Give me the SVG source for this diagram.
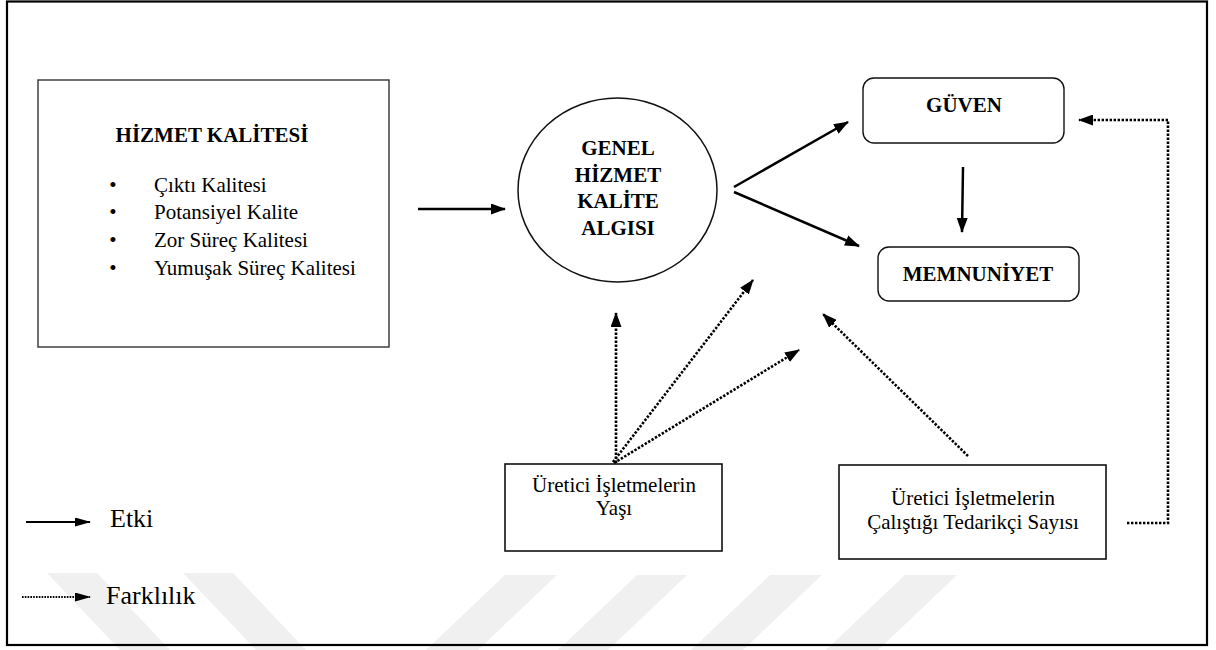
<svg xmlns="http://www.w3.org/2000/svg" width="1216" height="650" viewBox="0 0 1216 650">
  <style>
    text { font-family: "Liberation Serif", "Times New Roman", serif; fill: #000; }
    .title { font-size: 21px; font-weight: bold; text-anchor: middle; }
    .body { font-size: 21px; }
    .mid { text-anchor: middle; }
    .legend { font-size: 26px; }
    .box { fill: #fff; stroke: #111; stroke-width: 1.6; }
    .solid { fill: none; stroke: #000; stroke-width: 2.5; }
    .dotted { fill: none; stroke: #000; stroke-width: 2.6; stroke-dasharray: 2.4 1.6; }
    .mark { fill: #f0f0f0; }
  </style>
  <defs>
    <marker id="head" markerUnits="userSpaceOnUse" markerWidth="15" markerHeight="11" refX="14" refY="5.5" orient="auto">
      <path d="M0,0 L15,5.5 L0,11 z" fill="#000"/>
    </marker>
    <marker id="headSmall" markerUnits="userSpaceOnUse" markerWidth="16" markerHeight="9" refX="15" refY="4.5" orient="auto">
      <path d="M0,0 L16,4.5 L0,9 z" fill="#000"/>
    </marker>
  </defs>

  <rect width="1216" height="650" fill="#fff"/>

  <!-- faint background stripes -->
  <g id="stripes">
    <polygon class="mark" points="47,573 97,573 170,650 120,650"/>
    <polygon class="mark" points="183,573 233,573 306,650 256,650"/>
    <polygon class="mark" points="505,575 557,575 478,650 426,650"/>
    <polygon class="mark" points="637,575 687,575 608,650 558,650"/>
    <polygon class="mark" points="770,575 822,575 743,650 691,650"/>
    <polygon class="mark" points="905,575 957,575 878,650 826,650"/>
  </g>

  <!-- outer frame -->
  <rect x="7" y="1.5" width="1200" height="643.5" fill="none" stroke="#000" stroke-width="2.2"/>

  <g id="hizmet-kalitesi">
    <rect x="38" y="80" width="351" height="267" fill="#fff" stroke="#333" stroke-width="1.4"/>
    <text class="title" x="212" y="142">HİZMET KALİTESİ</text>
    <g class="body">
      <text class="mid" x="113" y="192">•</text>
      <text x="154" y="192">Çıktı Kalitesi</text>
      <text class="mid" x="113" y="219">•</text>
      <text x="154" y="219">Potansiyel Kalite</text>
      <text class="mid" x="113" y="247">•</text>
      <text x="154" y="247">Zor Süreç Kalitesi</text>
      <text class="mid" x="113" y="275">•</text>
      <text x="154" y="275">Yumuşak Süreç Kalitesi</text>
    </g>
  </g>

  <g id="genel-algi">
    <ellipse cx="617.5" cy="190" rx="99.5" ry="92" fill="#fff" stroke="#111" stroke-width="1.5"/>
    <text class="title" x="618" y="155">GENEL</text>
    <text class="title" x="618" y="182">HİZMET</text>
    <text class="title" x="618" y="208">KALİTE</text>
    <text class="title" x="618" y="235">ALGISI</text>
  </g>

  <g id="guven">
    <rect x="863" y="78" width="201" height="65" rx="11" fill="#fff" stroke="#111" stroke-width="1.4"/>
    <text class="title" x="964" y="112">GÜVEN</text>
  </g>

  <g id="memnuniyet">
    <rect x="878" y="247" width="201" height="54" rx="11" fill="#fff" stroke="#111" stroke-width="1.4"/>
    <text class="title" x="978" y="281">MEMNUNİYET</text>
  </g>

  <g id="isletme-yasi">
    <rect class="box" x="505" y="464" width="217" height="87"/>
    <text class="body mid" x="614" y="492">Üretici İşletmelerin</text>
    <text class="body mid" x="614" y="515">Yaşı</text>
  </g>

  <g id="tedarikci-sayisi">
    <rect class="box" x="839" y="465" width="267" height="94"/>
    <text class="body mid" x="973" y="505">Üretici İşletmelerin</text>
    <text class="body mid" x="973" y="529">Çalıştığı Tedarikçi Sayısı</text>
  </g>

  <g id="connectors">
    <!-- effects -->
    <line class="solid" x1="418" y1="209" x2="505" y2="209" marker-end="url(#head)"/>
    <line class="solid" x1="734" y1="187" x2="848" y2="122" marker-end="url(#head)"/>
    <line class="solid" x1="734" y1="192" x2="859" y2="246" marker-end="url(#head)"/>
    <line class="solid" x1="963" y1="167" x2="962" y2="232" marker-end="url(#head)"/>
    <!-- differences -->
    <line class="dotted" x1="616" y1="463" x2="616" y2="313" marker-end="url(#head)"/>
    <line class="dotted" x1="613" y1="462" x2="753" y2="280" marker-end="url(#head)"/>
    <line class="dotted" x1="614" y1="463" x2="799" y2="350" marker-end="url(#head)"/>
    <line class="dotted" x1="968" y1="456" x2="823" y2="314" marker-end="url(#head)"/>
    <polyline class="dotted" points="1127,523 1168,523 1168,120 1079,120" marker-end="url(#head)"/>
  </g>

  <g id="legend">
    <line x1="26" y1="522" x2="90" y2="522" stroke="#000" stroke-width="2.2" marker-end="url(#headSmall)"/>
    <text class="legend" x="110" y="527">Etki</text>
    <line x1="22" y1="597" x2="90" y2="597" stroke="#000" stroke-width="1.8" stroke-dasharray="1.6 1.2" marker-end="url(#headSmall)"/>
    <text class="legend" x="106" y="604">Farklılık</text>
  </g>
</svg>
